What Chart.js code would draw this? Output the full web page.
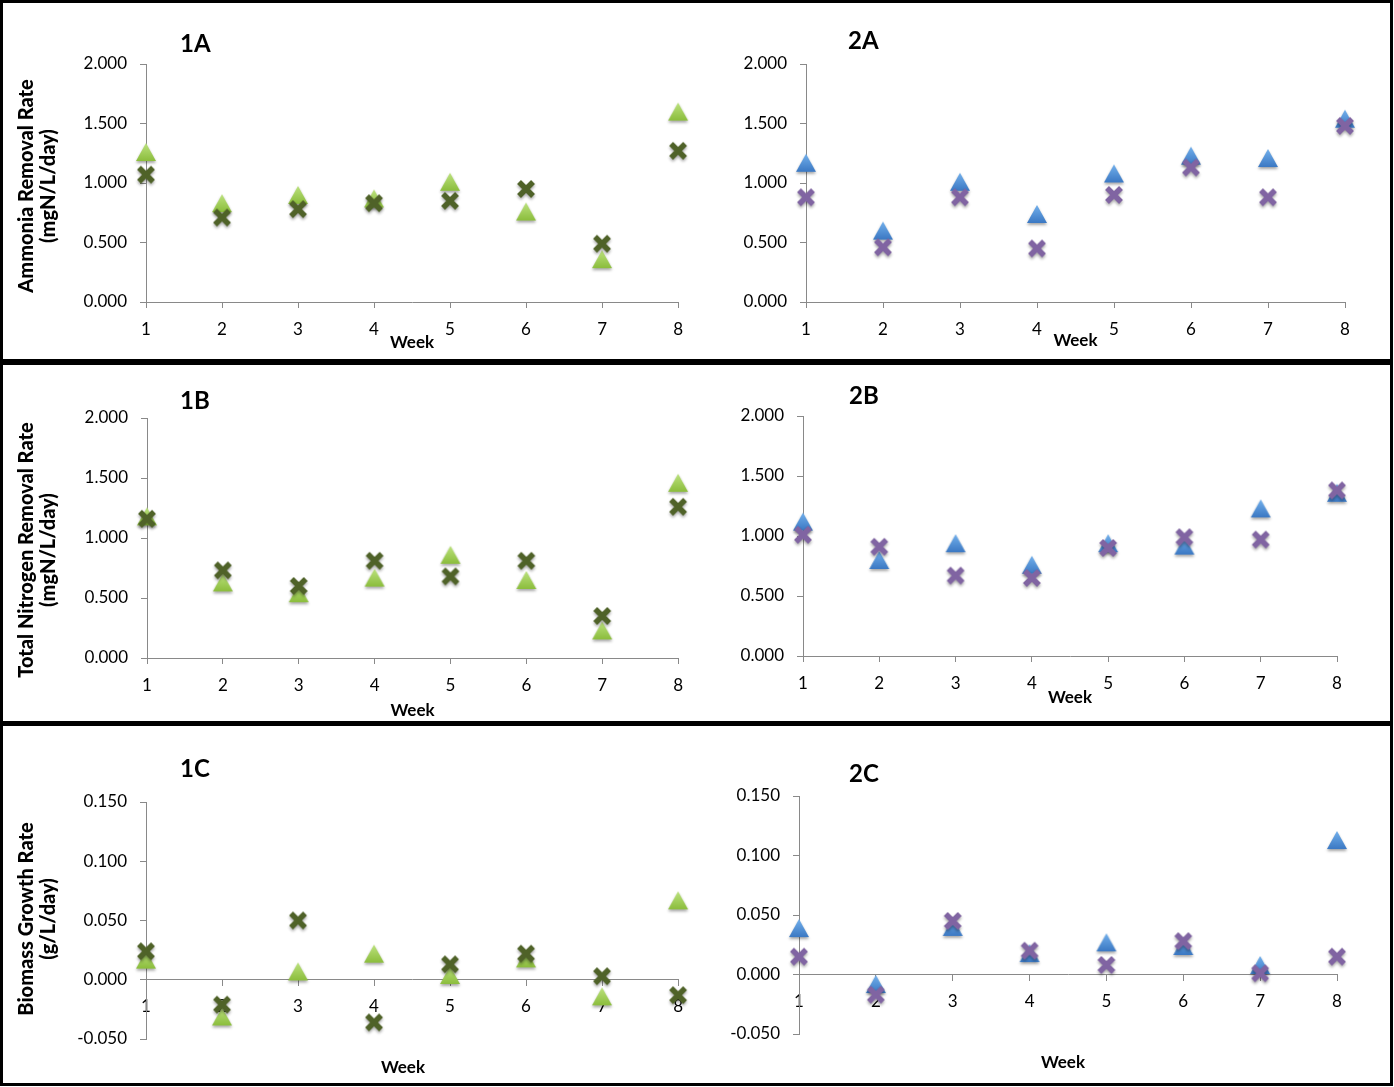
<!DOCTYPE html>
<html>
<head>
<meta charset="utf-8">
<script src="https://cdn.jsdelivr.net/npm/chart.js@4.4.1/dist/chart.umd.min.js"></script>
<style>
  body { margin: 0; background: #fff; }
  #page { position: relative; width: 1394px; height: 1087px; overflow: hidden; }
  canvas { position: absolute; }
  .frame { position: absolute; left: 0; top: 0; width: 1393px; height: 1086px; border: 3px solid #000; box-sizing: border-box; z-index: 5; }
  .divider { position: absolute; left: 0; width: 1393px; background: #000; z-index: 5; }
  .panel { position: absolute; font-family: Lato, sans-serif; font-weight: bold; font-size: 24px; line-height: 24px; color: #000; }
  .week { position: absolute; font-family: Lato, sans-serif; font-weight: bold; font-size: 17px; line-height: 20px; color: #000; width: 80px; text-align: center; }
  .ytitle { position: absolute; width: 320px; height: 44px; font-family: Lato, sans-serif; font-weight: 900; font-size: 20px; line-height: 22px; color: #000; text-align: center; transform: translate(-50%, -50%) rotate(-90deg); white-space: nowrap; }
</style>
</head>
<body>
<div id="page">
  <canvas id="c1A" style="left:4px;top:4px" width="690" height="354"></canvas>
  <canvas id="c2A" style="left:700px;top:4px" width="686" height="354"></canvas>
  <canvas id="c1B" style="left:4px;top:366px" width="690" height="358"></canvas>
  <canvas id="c2B" style="left:700px;top:366px" width="686" height="358"></canvas>
  <canvas id="c1C" style="left:4px;top:727px" width="690" height="356"></canvas>
  <canvas id="c2C" style="left:700px;top:727px" width="686" height="356"></canvas>

  <div class="frame"></div>
  <div class="divider" style="top:359px;height:6px"></div>
  <div class="divider" style="top:721px;height:5px"></div>

  <div class="panel" style="left:180px;top:31px">1A</div>
  <div class="panel" style="left:848px;top:28px">2A</div>
  <div class="panel" style="left:180px;top:388px">1B</div>
  <div class="panel" style="left:849px;top:383px">2B</div>
  <div class="panel" style="left:180px;top:756px">1C</div>
  <div class="panel" style="left:849px;top:761px">2C</div>

  <div class="ytitle" style="left:36px;top:186px">Ammonia Removal Rate<br>(mgN/L/day)</div>
  <div class="ytitle" style="left:36px;top:550px">Total Nitrogen Removal Rate<br>(mgN/L/day)</div>
  <div class="ytitle" style="left:36px;top:919px">Biomass Growth Rate<br>(g/L/day)</div>

  <div class="week" style="left:363px;top:1057px">Week</div>
  <div class="week" style="left:1023px;top:1052px">Week</div>
</div>

<script>
const weeks = [1, 2, 3, 4, 5, 6, 7, 8];

// column 1 (green) and column 2 (blue / purple)
const ammoniaTri1 = [1.26, 0.83, 0.90, 0.87, 1.01, 0.76, 0.36, 1.60];
const ammoniaX1   = [1.07, 0.71, 0.78, 0.83, 0.85, 0.95, 0.49, 1.27];
const ammoniaTri2 = [1.17, 0.60, 1.01, 0.74, 1.08, 1.23, 1.21, 1.54];
const ammoniaX2   = [0.88, 0.46, 0.88, 0.45, 0.90, 1.13, 0.88, 1.48];

const nitrogenTri1 = [1.18, 0.63, 0.54, 0.67, 0.86, 0.65, 0.23, 1.46];
const nitrogenX1   = [1.16, 0.73, 0.60, 0.81, 0.68, 0.81, 0.35, 1.26];
const nitrogenTri2 = [1.12, 0.80, 0.94, 0.76, 0.94, 0.92, 1.23, 1.36];
const nitrogenX2   = [1.01, 0.91, 0.67, 0.65, 0.90, 0.99, 0.97, 1.38];

const biomassTri1 = [0.017, -0.031, 0.007, 0.022, 0.004, 0.018, -0.014, 0.067];
const biomassX1   = [0.024, -0.021, 0.050, -0.036, 0.013, 0.022, 0.003, -0.013];
const biomassTri2 = [0.039, -0.008, 0.040, 0.018, 0.027, 0.024, 0.008, 0.113];
const biomassX2   = [0.015, -0.017, 0.045, 0.020, 0.008, 0.028, 0.001, 0.015];

const axisColor = "#898989";

Chart.defaults.font.family = "Lato, sans-serif";
Chart.defaults.color = "#000";

function triangleMarker(top, bottom) {
    const c = document.createElement("canvas");
    c.width = 30;
    c.height = 30;
    const g = c.getContext("2d");
    const grad = g.createLinearGradient(0, 6, 0, 24);
    grad.addColorStop(0, top);
    grad.addColorStop(1, bottom);
    g.shadowColor = "rgba(0,0,0,0.35)";
    g.shadowBlur = 3;
    g.shadowOffsetY = 2;
    g.beginPath();
    g.moveTo(15, 6);
    g.lineTo(25, 24);
    g.lineTo(5, 24);
    g.closePath();
    g.fillStyle = grad;
    g.fill();
    return c;
}

function crossMarker(color) {
    const c = document.createElement("canvas");
    c.width = 30;
    c.height = 30;
    const g = c.getContext("2d");
    g.shadowColor = "rgba(0,0,0,0.35)";
    g.shadowBlur = 3;
    g.shadowOffsetY = 2;
    g.strokeStyle = color;
    g.lineWidth = 5.5;
    g.beginPath();
    g.moveTo(8, 8);
    g.lineTo(22, 22);
    g.moveTo(22, 8);
    g.lineTo(8, 22);
    g.stroke();
    return c;
}

const greenTri = triangleMarker("#BCE27E", "#8BBD3C");
const greenX = crossMarker("#4F6228");
const blueTri = triangleMarker("#72B0EC", "#3B78C3");
const purpleX = crossMarker("#8064A2");

function points(values) {
    return weeks.map((w, i) => ({ x: w, y: values[i] }));
}

function makeChart(id, p) {
    const ctx = document.getElementById(id).getContext("2d");
    const zeroAxis = p.zeroAxis;

    const xScale = {
        type: "linear",
        min: 1,
        max: 8,
        position: zeroAxis ? { y: 0 } : "bottom",
        z: zeroAxis ? 1 : 0,
        ticks: { stepSize: 1, padding: 11, font: { size: 17 } },
        grid: { drawOnChartArea: false, drawTicks: true, tickLength: 6, tickColor: axisColor },
        border: { color: axisColor, width: 1 },
        title: {
            display: !zeroAxis,
            text: "Week",
            font: { size: 17, weight: "bold" },
            padding: { top: 0, bottom: p.weekPad || 0 },
        },
    };
    if (!zeroAxis) {
        xScale.afterFit = function (scale) {
            scale.height = p.xHeight;
        };
    }

    const yScale = {
        type: "linear",
        min: p.yMin,
        max: p.yMax,
        ticks: {
            stepSize: p.yStep,
            padding: 13,
            font: { size: 17 },
            callback: (v) => v.toFixed(3),
        },
        grid: { drawOnChartArea: false, drawTicks: true, tickLength: 6, tickColor: axisColor },
        border: { color: axisColor, width: 1 },
        afterFit: function (scale) {
            scale.width = p.yWidth;
        },
    };

    return new Chart(ctx, {
        type: "scatter",
        data: {
            datasets: [
                { label: "x", data: points(p.xValues), pointStyle: p.xMarker, pointRadius: 9, clip: false },
                { label: "tri", data: points(p.triValues), pointStyle: p.triMarker, pointRadius: 10, clip: false },
            ],
        },
        options: {
            responsive: false,
            animation: false,
            layout: { padding: p.padding },
            scales: { x: xScale, y: yScale },
            plugins: { legend: { display: false }, tooltip: { enabled: false } },
        },
    });
}

makeChart("c1A", {
    triValues: ammoniaTri1, xValues: ammoniaX1, triMarker: greenTri, xMarker: greenX,
    yMin: 0, yMax: 2, yStep: 0.5,
    yWidth: 142, xHeight: 56, weekPad: 5,
    padding: { left: 0, right: 10, top: 60, bottom: 0 },
});

makeChart("c2A", {
    triValues: ammoniaTri2, xValues: ammoniaX2, triMarker: blueTri, xMarker: purpleX,
    yMin: 0, yMax: 2, yStep: 0.5,
    yWidth: 106, xHeight: 56, weekPad: 7,
    padding: { left: 0, right: 41, top: 60, bottom: 0 },
});

makeChart("c1B", {
    triValues: nitrogenTri1, xValues: nitrogenX1, triMarker: greenTri, xMarker: greenX,
    yMin: 0, yMax: 2, yStep: 0.5,
    yWidth: 143, xHeight: 66, weekPad: 3,
    padding: { left: 0, right: 9, top: 52, bottom: 0 },
});

makeChart("c2B", {
    triValues: nitrogenTri2, xValues: nitrogenX2, triMarker: blueTri, xMarker: purpleX,
    yMin: 0, yMax: 2, yStep: 0.5,
    yWidth: 103, xHeight: 68, weekPad: 16,
    padding: { left: 0, right: 49, top: 50, bottom: 0 },
});

makeChart("c1C", {
    triValues: biomassTri1, xValues: biomassX1, triMarker: greenTri, xMarker: greenX,
    yMin: -0.05, yMax: 0.15, yStep: 0.05, zeroAxis: true,
    yWidth: 142,
    padding: { left: 0, right: 10, top: 75, bottom: 44 },
});

makeChart("c2C", {
    triValues: biomassTri2, xValues: biomassX2, triMarker: blueTri, xMarker: purpleX,
    yMin: -0.05, yMax: 0.15, yStep: 0.05, zeroAxis: true,
    yWidth: 99,
    padding: { left: 0, right: 49, top: 69, bottom: 49 },
});
</script>
</body>
</html>
